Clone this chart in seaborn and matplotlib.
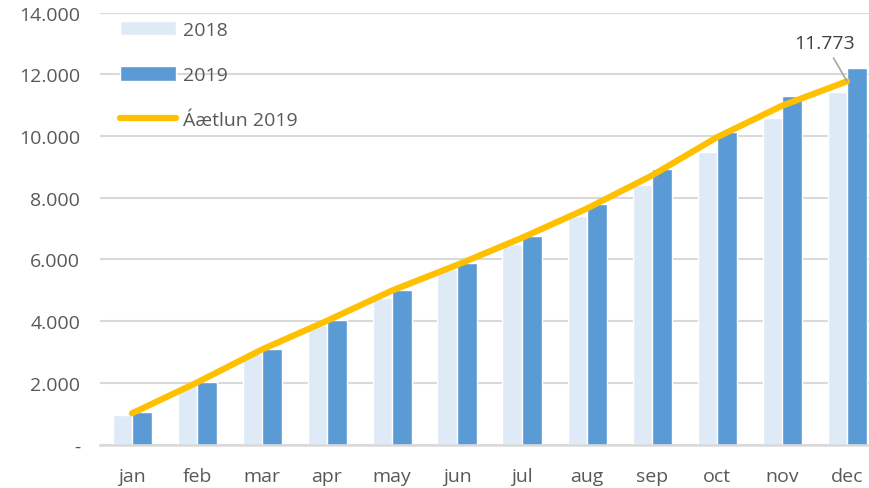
import matplotlib
matplotlib.use("Agg")
import matplotlib.pyplot as plt
import pandas as pd
import seaborn as sns
from matplotlib.ticker import FuncFormatter

months = ["jan", "feb", "mar", "apr", "may", "jun", "jul", "aug", "sep", "oct", "nov", "dec"]
values_2018 = [970, 1910, 2930, 3860, 4750, 5700, 6510, 7410, 8400, 9490, 10590, 11440]
values_2019 = [1060, 2010, 3110, 4020, 5010, 5890, 6770, 7800, 8940, 10140, 11300, 12220]
plan_2019 = [1010, 2010, 3080, 4010, 4990, 5820, 6700, 7650, 8720, 9960, 10980, 11773]
years = ["2018", "2019"]
plan_label = "Áætlun 2019"

sns.set_theme(style="white")
plt.rcParams["font.family"] = ["Open Sans", "DejaVu Sans"]
text_color = "#595959"
grid_color = "#D9D9D9"
font_size = 14

df = pd.DataFrame({
    "month": months * 2,
    "year": [years[0]] * 12 + [years[1]] * 12,
    "value": values_2018 + values_2019,
})

fig = plt.figure(figsize=(8.69, 4.89), dpi=100)
ax = fig.add_axes([99.5 / 869, 1 - 445.5 / 489, 780 / 869, (445.5 - 13.6) / 489])

sns.barplot(
    data=df,
    x="month",
    y="value",
    hue="year",
    palette=["#DEEBF7", "#5B9BD5"],
    width=0.6,
    gap=0,
    saturation=1,
    ax=ax,
    zorder=2,
)
sns.lineplot(
    x=months,
    y=plan_2019,
    color="#FFC000",
    linewidth=4.5,
    label=plan_label,
    ax=ax,
    zorder=3,
)

ax.set_xlim(-0.5, 11.5)
ax.set_ylim(0, 14000)
ax.set_yticks(range(0, 14001, 2000))
ax.yaxis.set_major_formatter(FuncFormatter(lambda v, _: "-" if v == 0 else f"{v:,.0f}".replace(",", ".")))
ax.grid(axis="y", color=grid_color, linewidth=1.5, zorder=0)
ax.set_axisbelow(True)
for side in ["top", "right", "left"]:
    ax.spines[side].set_visible(False)
ax.spines["bottom"].set_color(grid_color)
ax.spines["bottom"].set_linewidth(1.8)
ax.tick_params(axis="both", length=0, labelsize=font_size, colors=text_color)
ax.tick_params(axis="y", pad=14)
ax.tick_params(axis="x", pad=16)
ax.set_xlabel("")
ax.set_ylabel("")

# last value label with leader line
ax.annotate(
    f"{plan_2019[-1]:,}".replace(",", "."),
    xy=(11, plan_2019[-1]),
    xytext=(-22, 38),
    textcoords="offset pixels",
    ha="center",
    va="center",
    fontsize=font_size,
    color="#404040",
    arrowprops=dict(arrowstyle="-", color="#A6A6A6", linewidth=1.2, shrinkA=2, shrinkB=0),
)

handles, labels = ax.get_legend_handles_labels()
ax.legend(
    handles,
    labels,
    loc="upper left",
    bbox_to_anchor=(120 / 869, 1 - 22 / 489),
    bbox_transform=fig.transFigure,
    frameon=False,
    fontsize=font_size,
    labelcolor=text_color,
    handlelength=2.9,
    handleheight=0.75,
    handletextpad=0.35,
    labelspacing=1.4,
    borderpad=0,
    borderaxespad=0,
)

fig.savefig("out.png", dpi=100)
